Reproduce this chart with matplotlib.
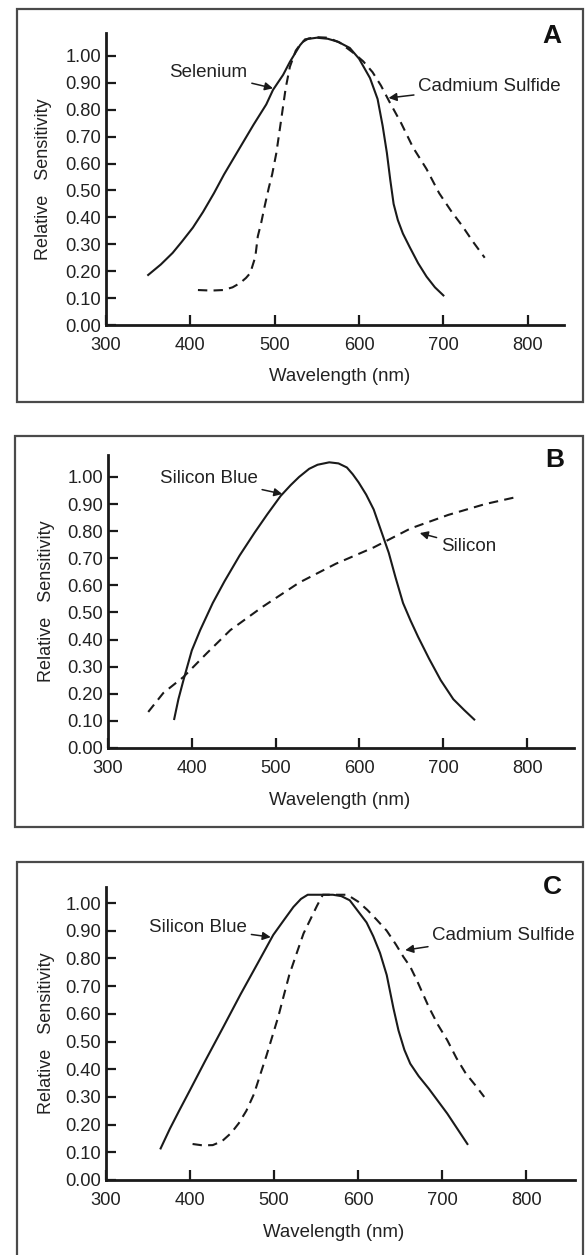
import matplotlib
matplotlib.use('Agg')
import matplotlib.pyplot as plt
from matplotlib.patches import Rectangle

plt.rcParams['font.family'] = ['Liberation Sans', 'DejaVu Sans']

# --- data ------------------------------------------------------------------
# Panel A
a_selenium_nm = [350, 365, 379, 390, 403, 415, 428, 440, 457, 475, 490, 498, 510, 518, 530, 536, 550,
                 563, 575, 589, 600, 613, 622, 628, 633, 637, 641, 646, 652, 660, 670, 680, 690, 700]
a_selenium = [0.186, 0.225, 0.268, 0.31, 0.362, 0.42, 0.49, 0.56, 0.65, 0.745, 0.82, 0.874, 0.93,
              0.978, 1.04, 1.062, 1.068, 1.064, 1.053, 1.03, 0.99, 0.918, 0.84, 0.74, 0.64, 0.54,
              0.45, 0.39, 0.34, 0.29, 0.23, 0.18, 0.14, 0.11]
a_cds_nm = [409, 425, 439, 450, 459, 466, 471, 477, 480, 484, 488, 493, 497, 502, 508, 513, 518, 525,
            532, 540, 550, 563, 577, 594, 605, 616, 626, 636, 650, 664, 680, 695, 710, 722, 735, 749]
a_cds = [0.13, 0.128, 0.13, 0.14, 0.156, 0.175, 0.193, 0.253, 0.33, 0.38, 0.44, 0.51, 0.56, 0.64,
         0.77, 0.88, 0.96, 1.02, 1.05, 1.065, 1.07, 1.068, 1.05, 1.01, 0.98, 0.94, 0.89, 0.83,
         0.75, 0.66, 0.58, 0.49, 0.42, 0.37, 0.31, 0.25]

# Panel B
b_blue_nm = [379, 384, 390, 400, 410, 425, 439, 457, 475, 490, 506, 518, 528, 540, 550, 564, 575,
             585, 592, 599, 608, 617, 626, 635, 643, 652, 661, 670, 683, 697, 712, 725, 737]
b_blue = [0.107, 0.18, 0.25, 0.36, 0.435, 0.535, 0.615, 0.71, 0.795, 0.862, 0.93, 0.97, 1.00, 1.03,
          1.045, 1.054, 1.05, 1.035, 1.01, 0.98, 0.935, 0.88, 0.80, 0.72, 0.63, 0.535, 0.47, 0.41,
          0.33, 0.25, 0.18, 0.14, 0.105]
b_silicon_nm = [348, 366, 390, 418, 446, 484, 528, 572, 617, 661, 706, 750, 786]
b_silicon = [0.133, 0.203, 0.262, 0.35, 0.435, 0.52, 0.61, 0.68, 0.74, 0.81, 0.86, 0.90, 0.925]

# Panel C
c_blue_nm = [365, 376, 387, 400, 418, 440, 460, 480, 499, 512, 523, 532, 540, 555, 570, 580, 590,
             600, 610, 618, 626, 634, 642, 648, 655, 662, 672, 684, 695, 706, 718, 730]
c_blue = [0.114, 0.185, 0.25, 0.325, 0.43, 0.555, 0.67, 0.78, 0.885, 0.94, 0.986, 1.015, 1.03, 1.03,
          1.03, 1.025, 1.01, 0.97, 0.93, 0.88, 0.82, 0.74, 0.62, 0.54, 0.47, 0.42, 0.375, 0.33,
          0.285, 0.24, 0.185, 0.13]
c_cds_nm = [403, 415, 427, 438, 449, 458, 467, 476, 484, 491, 498, 505, 511, 518, 527, 535, 543, 551,
            558, 572, 587, 600, 611, 622, 634, 645, 654, 662, 670, 684, 695, 706, 717, 728, 740, 750]
c_cds = [0.13, 0.125, 0.126, 0.14, 0.17, 0.205, 0.25, 0.31, 0.385, 0.45, 0.52, 0.59, 0.66, 0.74,
         0.82, 0.89, 0.94, 0.99, 1.03, 1.03, 1.03, 1.005, 0.975, 0.94, 0.90, 0.85, 0.805, 0.77,
         0.72, 0.625, 0.56, 0.505, 0.44, 0.385, 0.34, 0.30]

x_ticks = [300, 400, 500, 600, 700, 800]
y_ticks = [0.0, 0.1, 0.2, 0.3, 0.4, 0.5, 0.6, 0.7, 0.8, 0.9, 1.0]
y_tick_labels = ['%.2f' % v for v in y_ticks]

W, H = 586, 1255
INK = '#1a1a1a'
TXT = '#222222'
DASH = (0, (4.5, 3))

fig = plt.figure(figsize=(W / 100, H / 100), dpi=100)


def px_rect(x0, y0, x1, y1):
    # pixel box (top-left origin) -> figure fraction [left, bottom, width, height]
    return [x0 / W, 1 - y1 / H, (x1 - x0) / W, (y1 - y0) / H]


def panel(rect, box, xmax, ymax, letter, letter_xy, ylab_x, xlab_x):
    b = px_rect(*box)
    fig.add_artist(Rectangle((b[0], b[1]), b[2], b[3], transform=fig.transFigure,
                             fill=False, edgecolor='#4a4a4a', linewidth=1.6))
    ax = fig.add_axes(px_rect(*rect))
    ax.set_xlim(300, xmax)
    ax.set_ylim(0, ymax)
    for s in ['top', 'right']:
        ax.spines[s].set_visible(False)
    for s in ['left', 'bottom']:
        ax.spines[s].set_linewidth(2.0)
        ax.spines[s].set_color(INK)
    ax.set_xticks(x_ticks)
    ax.set_yticks(y_ticks)
    ax.set_yticklabels(y_tick_labels)
    ax.tick_params(direction='in', length=7, width=1.6, color=INK, labelsize=13.2,
                   labelcolor=TXT)
    ax.tick_params(axis='y', pad=3.5)
    ax.tick_params(axis='x', pad=8.5)
    ax.set_xlabel('Wavelength (nm)', fontsize=13.4, color=TXT)
    ax.xaxis.set_label_coords(xlab_x, -0.178)
    ax.xaxis.label.set_va('center')
    ax.set_ylabel('Relative   Sensitivity', fontsize=13, color=TXT)
    ax.yaxis.set_label_coords(ylab_x, 0.5)
    ax.yaxis.label.set_va('center')
    fig.text(letter_xy[0] / W, 1 - letter_xy[1] / H, letter, fontsize=19, fontweight='bold',
             color='#111111', ha='center', va='center')
    return ax


def note(ax, text, xy, xytext, ha):
    ax.annotate(text, xy=xy, xytext=xytext, fontsize=13.5, color=TXT, ha=ha, va='center',
                arrowprops=dict(arrowstyle='-|>', color=INK, lw=1.1, mutation_scale=12,
                                shrinkA=1, shrinkB=0))


# Panel A
ax = panel((106, 33, 564, 325), (17, 9, 583, 402), 843, 1.0855, 'A', (552, 36), -0.137, 0.51)
ax.plot(a_selenium_nm, a_selenium, color=INK, lw=1.5)
ax.plot(a_cds_nm, a_cds, color=INK, lw=1.5, linestyle=DASH)
note(ax, 'Selenium', (498, 0.88), (468, 0.937), 'right')
note(ax, 'Cadmium Sulfide', (635, 0.844), (670, 0.888), 'left')

# Panel B
ax = panel((108, 455, 574, 748), (15, 436, 583, 827), 856, 1.081, 'B', (555, 460), -0.131, 0.498)
ax.plot(b_blue_nm, b_blue, color=INK, lw=1.5)
ax.plot(b_silicon_nm, b_silicon, color=INK, lw=1.5, linestyle=DASH)
note(ax, 'Silicon Blue', (508, 0.937), (479, 0.996), 'right')
note(ax, 'Silicon', (672, 0.793), (697, 0.745), 'left')

# Panel C
ax = panel((106, 887, 575, 1180), (17, 862, 583, 1262), 858, 1.058, 'C', (552, 887), -0.126, 0.486)
ax.plot(c_blue_nm, c_blue, color=INK, lw=1.5)
ax.plot(c_cds_nm, c_cds, color=INK, lw=1.5, linestyle=DASH)
note(ax, 'Silicon Blue', (496, 0.877), (468, 0.913), 'right')
note(ax, 'Cadmium Sulfide', (656, 0.830), (688, 0.884), 'left')

fig.savefig('out.png', dpi=100)
